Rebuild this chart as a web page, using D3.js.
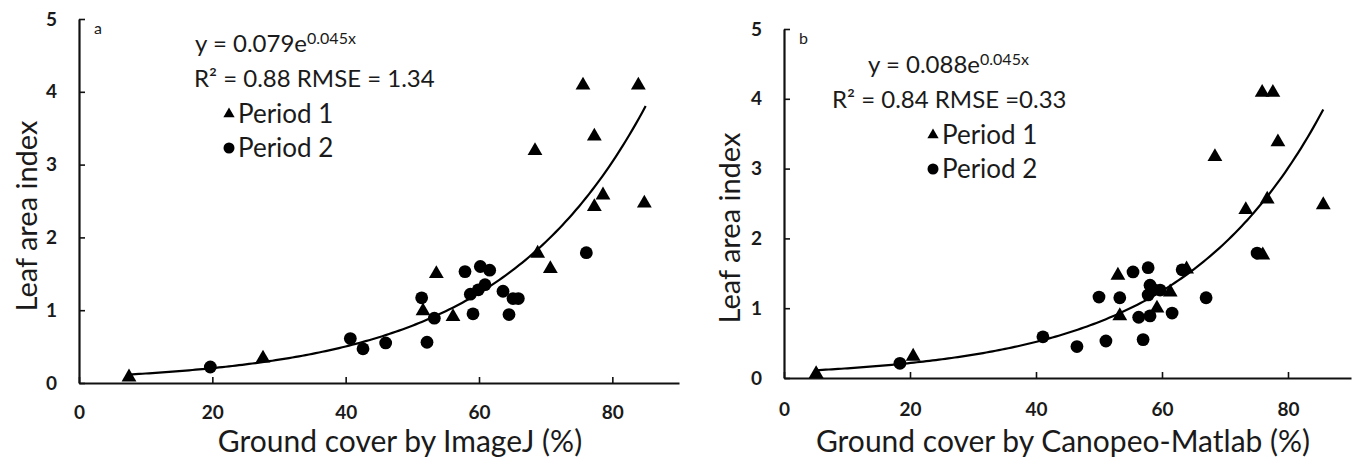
<!DOCTYPE html>
<html>
<head>
<meta charset="utf-8">
<script src="https://cdn.jsdelivr.net/npm/d3@7"></script>
<style>
  body { margin: 0; background: #fff; }
  text { font-family: Lato, "Open Sans", sans-serif; fill: #1a1a1a; }
  .tick text { font-weight: bold; font-size: 19px; }
</style>
</head>
<body>
<div id="chart"></div>
<script>
// panel a: ground cover by ImageJ
var p1aX = [7.5, 27.6, 51.6, 53.6, 56.1, 68.8, 70.7, 68.4, 75.6, 77.3, 78.6, 77.3, 83.9, 84.8];
var p1aY = [0.08, 0.34, 0.99, 1.50, 0.91, 1.78, 1.57, 3.19, 4.09, 3.39, 2.58, 2.42, 4.09, 2.47];
var p2aX = [19.7, 40.7, 42.6, 46.0, 52.2, 51.4, 53.3, 57.9, 60.2, 61.6, 58.7, 59.9, 60.9, 59.1, 63.6, 65.1, 65.9, 64.5, 76.1];
var p2aY = [0.22, 0.61, 0.47, 0.55, 0.56, 1.17, 0.89, 1.53, 1.60, 1.55, 1.22, 1.28, 1.35, 0.95, 1.26, 1.16, 1.16, 0.94, 1.79];

// panel b: ground cover by Canopeo-Matlab
var p1bX = [5.1, 20.5, 53.0, 53.3, 59.2, 61.3, 63.9, 68.4, 73.3, 75.9, 76.0, 76.7, 77.6, 78.4, 85.6];
var p1bY = [0.06, 0.31, 1.47, 0.89, 1.00, 1.23, 1.56, 3.17, 2.41, 4.09, 1.76, 2.56, 4.09, 3.38, 2.48];
var p2bX = [18.4, 41.1, 46.5, 51.1, 57.0, 50.0, 53.3, 55.4, 57.8, 58.1, 58.6, 59.7, 57.8, 56.3, 58.1, 61.6, 63.2, 67.0, 75.1];
var p2bY = [0.21, 0.59, 0.45, 0.53, 0.55, 1.16, 1.15, 1.52, 1.58, 1.33, 1.27, 1.26, 1.19, 0.87, 0.89, 0.93, 1.55, 1.15, 1.79];

// exponential trendlines y = a*e^(b*x) and their x span
var fitA = { a: 0.083, b: 0.045, from: 7.5, to: 85 };
var fitB = { a: 0.089, b: 0.044, from: 5.1, to: 85.6 };

var xTicks = [0, 20, 40, 60, 80];
var yTicks = [0, 1, 2, 3, 4, 5];

var svg = d3.select("#chart")
  .append("svg")
  .attr("width", 1354)
  .attr("height", 464);

function drawPanel(p) {
  var x = d3.scaleLinear().domain([0, 90]).range([p.left, p.right]);
  var y = d3.scaleLinear().domain([0, 5]).range([p.bottom, p.top]);
  var g = svg.append("g");

  // axes with inward ticks
  g.append("g")
    .attr("transform", `translate(0, ${p.bottom})`)
    .call(d3.axisBottom(x).tickValues(xTicks).tickFormat(d3.format("d"))
      .tickSizeInner(-6).tickSizeOuter(0).tickPadding(p.xPad))
    .call(a => a.select(".domain").attr("stroke-width", 2.2))
    .call(a => a.selectAll(".tick line").attr("stroke-width", 1.6));

  g.append("g")
    .attr("transform", `translate(${p.left}, 0)`)
    .call(d3.axisLeft(y).tickValues(yTicks).tickFormat(d3.format("d"))
      .tickSizeInner(-6).tickSizeOuter(0).tickPadding(p.yPad))
    .call(a => a.select(".domain").attr("stroke-width", 2.2))
    .call(a => a.selectAll(".tick line").attr("stroke-width", 1.6));

  g.selectAll(".domain").attr("stroke", "#111");
  g.selectAll(".tick line").attr("stroke", "#111");

  // trendline
  var xs = d3.range(p.fit.from, p.fit.to + 0.01, 0.5);
  var line = d3.line()
    .x(d => x(d))
    .y(d => y(p.fit.a * Math.exp(p.fit.b * d)));
  g.append("path")
    .datum(xs)
    .attr("d", line)
    .attr("fill", "none")
    .attr("stroke", "#000")
    .attr("stroke-width", 2.2);

  // period 1 triangles
  var tri = d3.symbol().type(d3.symbolTriangle).size(95);
  g.selectAll("path.p1")
    .data(d3.range(p.x1.length))
    .enter()
    .append("path")
    .attr("class", "p1")
    .attr("d", tri)
    .attr("transform", i => `translate(${x(p.x1[i])}, ${y(p.y1[i])})`)
    .attr("fill", "#000");

  // period 2 circles
  g.selectAll("circle.p2")
    .data(d3.range(p.x2.length))
    .enter()
    .append("circle")
    .attr("class", "p2")
    .attr("cx", i => x(p.x2[i]))
    .attr("cy", i => y(p.y2[i]))
    .attr("r", 6.4)
    .attr("fill", "#000");

  // panel letter
  g.append("text")
    .attr("x", p.left + 15)
    .attr("y", p.top + 15)
    .style("font-size", "16px")
    .text(p.letter);

  // equation and stats
  var eq = g.append("text")
    .attr("x", p.eqX)
    .attr("y", p.eqY)
    .style("font-size", "24px");
  eq.append("tspan").text(p.coef);
  eq.append("tspan").attr("dy", -8).style("font-size", "16px").text("0.045x");

  g.append("text")
    .attr("x", p.rX)
    .attr("y", p.eqY + 35)
    .style("font-size", "24px")
    .text(p.stats);

  // legend
  var lx = p.legX;
  g.append("path")
    .attr("d", d3.symbol().type(d3.symbolTriangle).size(55))
    .attr("transform", `translate(${lx}, ${p.eqY + 62})`)
    .attr("fill", "#000");
  g.append("text")
    .attr("x", lx + 9)
    .attr("y", p.eqY + 71)
    .style("font-size", "26px")
    .text("Period 1");
  g.append("circle")
    .attr("cx", lx)
    .attr("cy", p.eqY + 96)
    .attr("r", 5.5)
    .attr("fill", "#000");
  g.append("text")
    .attr("x", lx + 9)
    .attr("y", p.eqY + 105)
    .style("font-size", "26px")
    .text("Period 2");

  // axis titles
  g.append("text")
    .attr("x", p.xTitleX)
    .attr("y", 452)
    .attr("text-anchor", "middle")
    .style("font-size", "30px")
    .text(p.xTitle);

  g.append("text")
    .attr("transform", `translate(${p.yTitleX}, ${p.yTitleY}) rotate(-90)`)
    .attr("text-anchor", "middle")
    .style("font-size", "29px")
    .text("Leaf area index");
}

drawPanel({
  left: 79, right: 679, top: 19, bottom: 383, xPad: 23, yPad: 22,
  x1: p1aX, y1: p1aY, x2: p2aX, y2: p2aY, fit: fitA,
  letter: "a", coef: "y = 0.079e", stats: "R\u00b2 = 0.88 RMSE = 1.34",
  eqX: 195, rX: 194, eqY: 52, legX: 229,
  xTitle: "Ground cover by ImageJ (%)", xTitleX: 400,
  yTitleX: 37, yTitleY: 216
});

drawPanel({
  left: 784, right: 1351, top: 29, bottom: 378, xPad: 25, yPad: 22,
  x1: p1bX, y1: p1bY, x2: p2bX, y2: p2bY, fit: fitB,
  letter: "b", coef: "y = 0.088e", stats: "R\u00b2 = 0.84 RMSE =0.33",
  eqX: 868, rX: 832, eqY: 73, legX: 933,
  xTitle: "Ground cover by Canopeo-Matlab (%)", xTitleX: 1063,
  yTitleX: 740, yTitleY: 228
});
</script>
</body>
</html>
